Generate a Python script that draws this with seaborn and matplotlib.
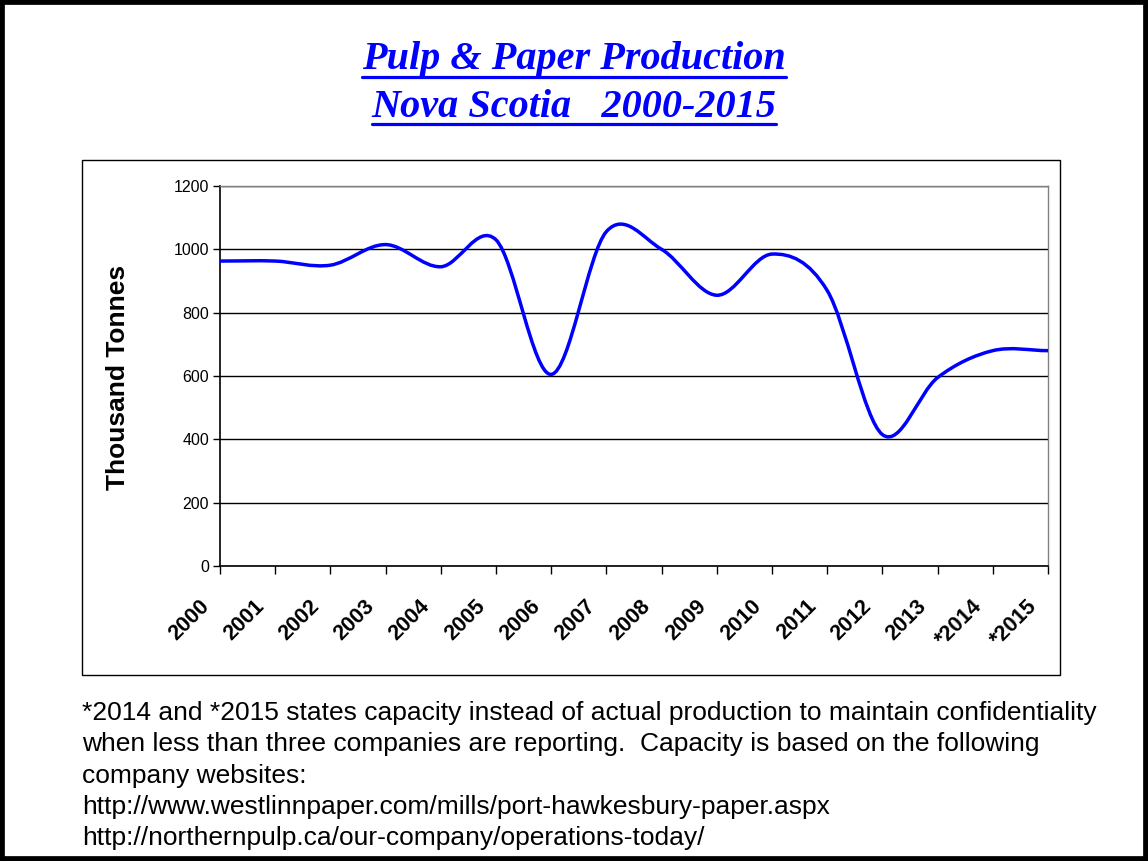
import numpy as np
import pandas as pd
import matplotlib
matplotlib.use("Agg")
import matplotlib.pyplot as plt
import matplotlib.transforms as mtransforms
import seaborn as sns
from matplotlib.path import Path
from matplotlib.patches import PathPatch, Rectangle
from matplotlib.lines import Line2D

# data
years = ["2000", "2001", "2002", "2003", "2004", "2005", "2006", "2007",
         "2008", "2009", "2010", "2011", "2012", "2013", "*2014", "*2015"]
production = [963, 963, 950, 1015, 945, 1030, 605, 1056,
              1000, 855, 985, 870, 415, 595, 680, 680]
y_ticks = [0, 200, 400, 600, 800, 1000, 1200]

title_lines = ["Pulp & Paper Production", "Nova Scotia   2000-2015"]
y_label = "Thousand Tonnes"
footnote_lines = [
    "*2014 and *2015 states capacity instead of actual production to maintain confidentiality",
    "when less than three companies are reporting.  Capacity is based on the following",
    "company websites:",
    "http://www.westlinnpaper.com/mills/port-hawkesbury-paper.aspx",
    "http://northernpulp.ca/our-company/operations-today/",
]

W, H = 1148, 861

sns.set_theme(style="white")
plt.rcParams["font.family"] = ["Liberation Sans", "DejaVu Sans"]

fig = plt.figure(figsize=(W / 100, H / 100), dpi=100)
fig.patch.set_facecolor("white")


def fx(px):
    return px / W


def fy(py):
    return 1 - py / H


# plot area: x 220..1048, y 186..566 px
ax = fig.add_axes([fx(220), fy(566), fx(1048 - 220), (566 - 186) / H])

df = pd.DataFrame({"pos": np.arange(len(years)), "value": production})
sns.lineplot(data=df, x="pos", y="value", ax=ax, lw=0)

# smoothed line like a spreadsheet "smoothed line": cubic Bezier segments
# through the data points (Catmull-Rom tangents)
xs = df["pos"].to_numpy(dtype=float)
vs = df["value"].to_numpy(dtype=float)
n = len(vs)
slopes = np.empty(n)
for i in range(n):
    lo = max(i - 1, 0)
    hi = min(i + 1, n - 1)
    slopes[i] = (vs[hi] - vs[lo]) / 2
verts = [(xs[0], vs[0])]
codes = [Path.MOVETO]
for i in range(n - 1):
    verts += [(xs[i] + 1 / 3, vs[i] + slopes[i] / 3),
              (xs[i + 1] - 1 / 3, vs[i + 1] - slopes[i + 1] / 3),
              (xs[i + 1], vs[i + 1])]
    codes += [Path.CURVE4] * 3
ax.add_patch(PathPatch(Path(verts, codes), fill=False, edgecolor="#0000FF",
                       lw=2.5, capstyle="round", joinstyle="round", zorder=3))

ax.set_xlim(0, n - 1)
ax.set_ylim(0, 1200)
ax.set_yticks(y_ticks)
ax.set_yticklabels([str(t) for t in y_ticks], fontsize=11.5)
ax.set_xticks(xs)
ax.set_xticklabels(years, rotation=45, ha="right", va="center",
                   rotation_mode="anchor", fontweight="bold", fontsize=15.5)
ax.tick_params(axis="y", left=True, direction="out", length=5, width=1,
               color="black", pad=3, labelcolor="black")
ax.tick_params(axis="x", bottom=True, direction="out", length=6, width=1,
               color="black", pad=5, labelcolor="black")
ax.yaxis.grid(True, color="black", lw=1)
ax.xaxis.grid(False)
ax.set_xlabel("")
ax.set_ylabel("")
for side in ["top", "right"]:
    ax.spines[side].set_color("#808080")
    ax.spines[side].set_linewidth(1)
for side in ["left", "bottom"]:
    ax.spines[side].set_color("black")
    ax.spines[side].set_linewidth(1.2)
ax.set_facecolor("white")

# push the slanted year labels down and left, as in the reference
shift = mtransforms.ScaledTranslation(-0.14, -0.22, fig.dpi_scale_trans)
for lab in ax.get_xticklabels():
    lab.set_transform(lab.get_transform() + shift)

fig.text(fx(118), fy(377), y_label, rotation=90, ha="center", va="center",
         fontsize=19, fontweight="bold", color="black")

# chart box and slide border
fig.patches.append(Rectangle((fx(82), fy(675)), fx(1060 - 82), (675 - 160) / H,
                             transform=fig.transFigure, fill=False,
                             edgecolor="black", lw=1))
fig.patches.append(Rectangle((0, 0), 1, 1, transform=fig.transFigure,
                             fill=False, edgecolor="black", lw=7))

# title, underlined
title_texts = []
for line, base in zip(title_lines, [69, 117]):
    t = fig.text(0.5, fy(base), line, ha="center", va="baseline",
                 fontsize=29, fontweight="bold", fontstyle="italic",
                 color="#0000FF", family=["Liberation Serif", "DejaVu Serif"])
    title_texts.append(t)

fig.canvas.draw()
renderer = fig.canvas.get_renderer()
for t, uy in zip(title_texts, [77, 124]):
    bb = t.get_window_extent(renderer)
    fig.add_artist(Line2D([bb.x0 / W, bb.x1 / W], [fy(uy), fy(uy)],
                          transform=fig.transFigure, color="#0000FF", lw=2.3))

for line, base in zip(footnote_lines, [720, 751, 783, 814, 845]):
    fig.text(fx(82), fy(base), line, ha="left", va="baseline",
             fontsize=19, color="black")

plt.savefig("out.png", dpi=100)
